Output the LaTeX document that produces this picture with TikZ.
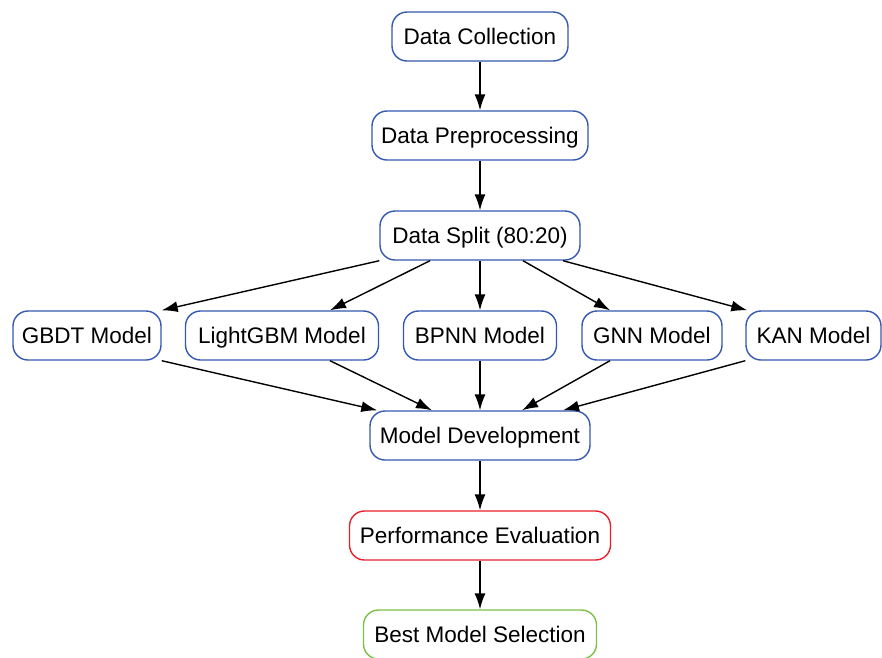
\documentclass[tikz,border=0pt]{standalone}
\usepackage{fontspec}
\setmainfont{Liberation Sans}
\usetikzlibrary{arrows.meta}
\definecolor{bluebd}{HTML}{3558B0}
\definecolor{redbd}{HTML}{E8202A}
\definecolor{greenbd}{HTML}{7CC04A}
\tikzset{
  box/.style={draw=bluebd, line width=1.4pt, rounded corners=15pt, minimum height=49pt,
    inner sep=0pt, text height=16pt, text depth=0pt, font=\fontsize{22.5}{26}\selectfont, fill=white},
  conn/.style={line width=1.4pt, -{Latex[length=16pt,width=11pt]}}
}
\begin{document}
\begin{tikzpicture}[x=1pt,y=-1pt]
\useasboundingbox (0,0) rectangle (882,657);
\node[box, minimum width=176pt] (dc) at (480,36.5) {Data Collection};
\node[box, minimum width=216pt] (dp) at (480,135.5) {Data Preprocessing};
\node[box, minimum width=200pt] (ds) at (480,235.5) {Data Split (80:20)};
\node[box, minimum width=148pt] (gbdt) at (87,335.5) {GBDT Model};
\node[box, minimum width=193pt] (lgbm) at (282,335.5) {LightGBM Model};
\node[box, minimum width=153pt] (bpnn) at (480,335.5) {BPNN Model};
\node[box, minimum width=140pt] (gnn) at (652,335.5) {GNN Model};
\node[box, minimum width=135pt] (kan) at (813.5,335.5) {KAN Model};
\node[box, minimum width=220pt] (md) at (480,435.5) {Model Development};
\node[box, draw=redbd, minimum width=261pt] (pe) at (480,535.5) {Performance Evaluation};
\node[box, draw=greenbd, minimum width=233pt] (bms) at (480,634.5) {Best Model Selection};

\draw[conn] (dc) -- (dp);
\draw[conn] (dp) -- (ds);
\draw[conn] (ds.south west) -- (gbdt.north east);
\draw[conn] ([xshift=-50pt]ds.south) -- ([xshift=48pt]lgbm.north);
\draw[conn] (ds) -- (bpnn);
\draw[conn] ([xshift=43pt]ds.south) -- ([xshift=-42pt]gnn.north);
\draw[conn] ([xshift=83pt]ds.south) -- ([xshift=2pt]kan.north west);
\draw[conn] (gbdt.south east) -- ([xshift=8pt]md.north west);
\draw[conn] ([xshift=48pt]lgbm.south) -- ([xshift=-48pt]md.north);
\draw[conn] (bpnn) -- (md);
\draw[conn] ([xshift=-42pt]gnn.south) -- ([xshift=42pt]md.north);
\draw[conn] (kan.south west) -- ([xshift=83pt]md.north);
\draw[conn] (md) -- (pe);
\draw[conn] (pe) -- (bms);
\end{tikzpicture}
\end{document}
